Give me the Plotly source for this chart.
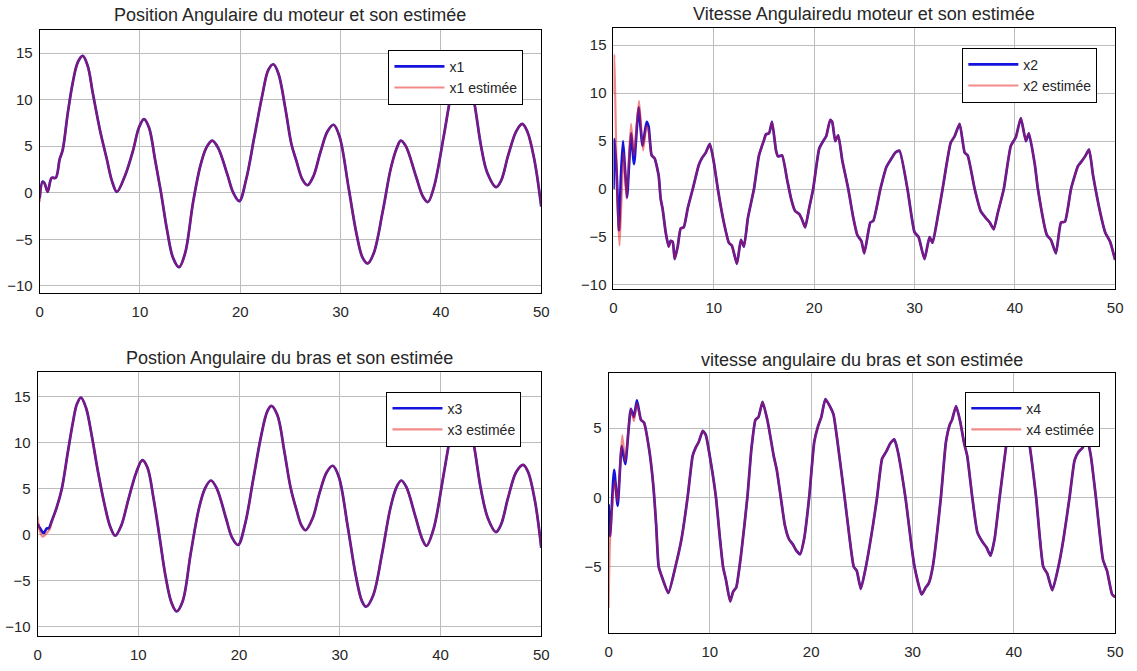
import plotly.graph_objects as go

W, H = 1137, 671

# ---------------- data ----------------
# x1 : position angulaire du moteur
x1_t_true = [0.0, 0.3, 0.5, 0.8, 1.2]
x1_v_true = [-0.6, 1.2, 1.0, 0.1, 1.6]
x1_t_est = [0.0, 0.3, 0.5, 0.8, 1.2]
x1_v_est = [-1.0, 1.1, 1.0, 0.1, 1.6]
x1_t = [1.6, 2.0, 2.3, 2.8, 3.3, 3.8, 4.3, 4.8, 5.3, 6.0, 6.7, 7.2, 7.7, 8.5, 9.3,
        9.9, 10.4, 10.9, 11.5, 12.1, 12.7, 13.3, 13.9, 14.5, 15.3, 16.0, 16.6, 17.2,
        17.8, 18.7, 19.3, 19.9, 20.6, 21.4, 22.2, 22.8, 23.3, 23.8, 24.5, 25.1, 25.6,
        26.2, 26.7, 27.3, 28.0, 28.7, 29.3, 29.9, 30.8, 31.6, 32.2, 32.7, 33.3, 34.2,
        35.0, 35.6, 36.0, 36.5, 37.5, 38.2, 38.7, 39.3, 40.3, 41.0, 41.6, 42.1, 42.6,
        43.3, 44.0, 44.6, 45.5, 46.0, 46.7, 47.5, 48.1, 48.6, 49.3, 50.0]
x1_v = [1.6, 3.6, 4.6, 8.5, 11.8, 14.0, 14.7, 13.6, 10.7, 6.8, 3.6, 1.3, 0.1, 1.8, 4.5,
        7.0, 7.9, 7.0, 3.6, 0.0, -4.0, -7.0, -8.0, -6.5, -1.0, 2.8, 4.8, 5.6,
        4.8, 2.0, 0.0, -0.9, 1.5, 6.0, 10.5, 13.2, 13.8, 12.8, 9.0, 5.2, 3.4,
        1.4, 0.8, 1.8, 4.4, 6.6, 7.3, 6.0, 0.5, -4.5, -7.0, -7.6, -6.5, -2.0,
        2.6, 4.8, 5.6, 5.0, 1.8, -0.4, -1.0, 0.6, 6.2, 10.5, 13.0, 13.8, 13.0,
        9.8, 5.0, 2.2, 0.6, 1.3, 4.0, 6.6, 7.4, 6.6, 3.6, -1.5]

# x2 : vitesse angulaire du moteur
x2_t_true = [0.0, 0.1, 0.3, 0.55, 0.75, 0.95, 1.15, 1.35, 1.55, 1.75, 2.05, 2.3, 2.5,
             2.9, 3.3, 3.5, 3.8]
x2_v_true = [0.0, 5.2, 2.0, -4.3, 1.5, 5.0, 2.0, -0.9, 2.5, 5.8, 2.6, 6.0, 8.5,
             4.5, 7.0, 6.5, 3.5]
x2_t_est = [0.0, 0.08, 0.18, 0.35, 0.6, 0.8, 1.0, 1.15, 1.3, 1.5, 1.75, 2.05, 2.3,
            2.55, 2.95, 3.3, 3.5, 3.8]
x2_v_est = [10.0, 14.0, 9.0, 0.0, -5.9, -1.0, 3.8, 1.5, -1.0, 2.5, 6.8, 3.5, 6.5,
            9.2, 4.0, 6.6, 6.0, 3.5]
x2_t = [4.1, 4.5, 4.7, 4.9, 5.2, 5.5, 5.7, 5.9, 6.1, 6.4, 6.7, 7.0, 7.4, 7.9, 8.5,
        8.8, 9.2, 9.6, 10.0, 10.4, 11.0, 11.5, 11.8, 12.3, 12.7, 13.0, 13.4, 14.0,
        14.5, 15.0, 15.2, 15.5, 15.8, 16.2, 16.4, 16.8, 17.3, 17.7, 18.1, 18.5, 18.8,
        19.1, 19.5, 19.9, 20.5, 20.9, 21.2, 21.6, 21.8, 22.1, 22.4, 22.8, 23.4, 23.9,
        24.3, 24.7, 25.0, 25.6, 25.9, 26.6, 27.2, 27.6, 28.1, 28.5, 29.3, 30.0, 30.4,
        31.0, 31.5, 31.8, 32.3, 32.8, 33.6, 34.0, 34.5, 35.0, 35.3, 36.0, 36.6, 37.1,
        37.5, 37.9, 38.3, 38.9, 39.6, 40.1, 40.6, 41.1, 41.4, 42.0, 42.3, 43.2, 43.6,
        44.1, 44.6, 45.0, 45.6, 46.3, 46.6, 47.0, 47.4, 47.8, 48.5, 49.0, 49.5, 50.0]
x2_v = [3.2, 1.4, -1.0, -2.1, -4.5, -6.0, -5.4, -5.5, -7.3, -6.0, -4.1, -4.0, -2.0, 0.0, 2.5,
        3.2, 3.8, 4.7, 2.8, 0.0, -3.5, -5.6, -5.9, -7.8, -5.3, -6.0, -3.0, 0.0,
        3.5, 5.1, 5.7, 5.8, 7.0, 4.0, 3.4, 3.5, 1.0, -1.0, -2.3, -2.6, -3.2,
        -4.0, -2.0, 0.0, 4.2, 5.0, 5.5, 7.2, 7.0, 5.0, 5.6, 3.0, 0.0, -3.0,
        -4.8, -5.4, -6.7, -3.5, -3.3, 0.0, 2.3, 3.0, 3.8, 4.0, 0.0, -4.5, -5.0,
        -7.3, -5.0, -5.6, -3.0, 0.0, 4.8, 5.5, 6.8, 3.8, 3.5, 0.0, -2.3, -3.0,
        -3.5, -4.2, -2.5, 0.0, 4.5, 5.4, 7.4, 5.0, 5.8, 2.5, 0.0, -4.8, -5.3,
        -6.7, -3.5, -3.4, 0.0, 2.4, 2.8, 3.4, 4.1, 1.4, -2.4, -4.5, -5.5, -7.4]

# x3 : position angulaire du bras
x3_t_true = [0.0, 0.3, 0.6, 0.9, 1.1, 1.4]
x3_v_true = [1.2, 0.6, 0.2, 0.7, 0.7, 1.5]
x3_t_est = [0.0, 0.2, 0.5, 0.9, 1.2, 1.4]
x3_v_est = [2.0, 0.5, -0.2, 0.2, 0.6, 1.4]
x3_t = [1.9, 2.4, 3.0, 3.5, 3.9, 4.3, 4.8, 5.4, 6.0, 6.7, 7.2, 7.7, 8.3, 9.0, 9.8,
        10.4, 10.9, 11.5, 12.1, 12.7, 13.3, 13.8, 14.4, 15.2, 16.0, 16.6, 17.2, 17.8,
        18.7, 19.3, 19.9, 20.6, 21.4, 22.2, 22.8, 23.2, 23.8, 24.5, 25.1, 25.7, 26.2,
        26.6, 27.3, 28.0, 28.7, 29.3, 29.9, 30.8, 31.6, 32.2, 32.6, 33.3, 34.2, 35.0,
        35.6, 36.1, 36.6, 37.5, 38.2, 38.6, 39.3, 40.3, 41.0, 41.6, 42.1, 42.6, 43.3,
        44.0, 44.7, 45.5, 46.0, 46.7, 47.5, 48.2, 48.7, 49.4, 50.0]
x3_v = [3.0, 5.0, 9.0, 12.2, 14.2, 14.9, 13.8, 10.6, 6.8, 3.0, 0.9, -0.1, 1.0, 3.8, 6.8,
        8.1, 7.3, 4.0, -0.2, -4.5, -7.4, -8.3, -7.2, -2.0, 2.8, 5.0, 5.9, 5.0,
        1.8, -0.3, -1.1, 1.2, 6.0, 10.8, 13.4, 14.0, 13.0, 9.0, 5.2, 2.7, 1.0,
        0.5, 1.8, 4.6, 6.8, 7.5, 6.3, 0.8, -4.5, -7.2, -7.8, -6.6, -2.0, 2.8,
        5.1, 5.9, 5.2, 2.0, -0.5, -1.2, 0.6, 6.5, 10.8, 13.3, 14.0, 13.2, 9.8,
        5.0, 1.8, 0.3, 1.1, 4.0, 6.8, 7.6, 6.8, 3.5, -1.4]

# x4 : vitesse angulaire du bras
x4_t_true = [0.0, 0.15, 0.55, 0.9, 1.3, 1.65, 2.2, 2.5, 2.8, 3.2]
x4_v_true = [-0.5, -2.8, 2.0, -0.6, 3.7, 2.4, 6.4, 5.8, 7.0, 5.6]
x4_t_est = [0.0, 0.15, 0.6, 0.9, 1.35, 1.65, 2.2, 2.5, 2.8, 3.2]
x4_v_est = [-8.0, -3.0, 1.2, -0.3, 4.5, 2.6, 6.4, 5.5, 6.8, 5.6]
x4_t = [3.5, 4.0, 4.4, 4.7, 4.95, 5.3, 5.9, 6.6, 7.2, 7.8, 8.3, 8.6, 8.9, 9.3, 9.6,
        10.1, 10.6, 11.0, 11.3, 11.6, 12.0, 12.3, 12.6, 13.1, 13.7, 14.1, 14.5, 14.8,
        15.2, 15.7, 16.3, 16.6, 17.0, 17.4, 17.8, 18.2, 18.5, 18.9, 19.3, 19.8, 20.3,
        20.7, 21.0, 21.4, 21.9, 22.2, 22.6, 23.3, 23.8, 24.2, 24.5, 24.9, 25.4, 26.1,
        26.5, 27.0, 27.4, 27.8, 28.2, 28.5, 29.3, 29.9, 30.2, 30.9, 31.3, 31.6, 32.0,
        32.8, 33.3, 33.7, 33.9, 34.3, 34.7, 35.1, 35.4, 35.9, 36.4, 36.9, 37.3, 37.7,
        38.1, 38.6, 39.3, 39.8, 40.3, 40.8, 41.5, 42.2, 42.9, 43.3, 43.8, 44.4, 44.9,
        45.5, 46.0, 46.4, 46.8, 47.2, 47.6, 48.1, 48.8, 49.2, 49.7, 50.0]
x4_v = [5.4, 3.5, 1.0, -2.0, -5.0, -5.8, -6.9, -5.0, -3.0, 0.0, 3.0, 3.6, 4.0, 4.8, 4.5,
        2.5, 0.0, -3.0, -5.0, -6.0, -7.5, -6.8, -6.5, -4.0, 0.0, 3.5, 5.6, 5.8,
        6.9, 5.5, 3.0, 2.0, 0.0, -2.0, -3.0, -3.4, -3.8, -4.1, -3.0, 0.0, 4.0,
        5.2, 5.8, 7.1, 6.5, 6.0, 4.0, 0.0, -3.0, -5.0, -5.3, -6.6, -5.0, -2.0,
        0.0, 2.8, 3.3, 3.9, 4.2, 3.5, 0.0, -3.5, -5.0, -7.0, -6.5, -6.2, -5.0,
        0.0, 4.0, 5.3, 5.6, 6.6, 5.5, 3.9, 3.0, 0.0, -2.5, -3.2, -3.6, -4.2,
        -3.0, 0.0, 4.0, 6.0, 7.2, 6.0, 4.0, 0.0, -5.0, -5.5, -6.7, -5.0, -3.0,
        0.0, 2.7, 3.3, 3.6, 4.3, 3.0, 0.0, -4.5, -5.3, -7.0, -7.2]

titles = ["Position Angulaire du moteur et son estimée",
          "Vitesse Angulairedu moteur et son estimée",
          "Postion Angulaire du bras et son estimée",
          "vitesse angulaire du bras et son estimée"]
names = ["x1", "x2", "x3", "x4"]
y_ranges = [[-10.8, 17.5], [-10.45, 16.8], [-11.0, 17.7], [-9.8, 9.0]]
y_ticks = [[-10, -5, 0, 5, 10, 15], [-10, -5, 0, 5, 10, 15],
           [-10, -5, 0, 5, 10, 15], [-5, 0, 5]]
x_ticks = [0, 10, 20, 30, 40, 50]

# ---------------- layout geometry (pixels) ----------------
# (left, right, top, bottom) of each axes box
boxes = [(36, 543, 30, 295), (616, 1123, 28, 291),
         (34, 543, 374, 640), (611, 1123, 375, 637)]
# legend boxes: right edge, top edge
legend_pos = [(525, 50), (1105, 48), (523, 394), (1108, 394)]
title_y = [15, 14, 360, 362]

series = [
    (x1_t_true + x1_t, x1_v_true + x1_v, x1_t_est + x1_t, x1_v_est + x1_v, 1.0),
    (x2_t_true + x2_t, x2_v_true + x2_v, x2_t_est + x2_t, x2_v_est + x2_v, 0.5),
    (x3_t_true + x3_t, x3_v_true + x3_v, x3_t_est + x3_t, x3_v_est + x3_v, 1.0),
    (x4_t_true + x4_t, x4_v_true + x4_v, x4_t_est + x4_t, x4_v_est + x4_v, 0.5),
]

FONT = "Liberation Sans, Arial, Helvetica, sans-serif"
TXT = "#262626"

fig = go.Figure()
layout = dict(width=W, height=H, margin=dict(l=0, r=0, t=0, b=0),
              paper_bgcolor="white", plot_bgcolor="white",
              font=dict(family=FONT, color=TXT, size=15),
              annotations=[], showlegend=True)

for i in range(4):
    sfx = "" if i == 0 else str(i + 1)
    leg = "legend" if i == 0 else "legend" + str(i + 1)
    tt, vt, te, ve, smooth = series[i]
    # true state: thick blue
    fig.add_trace(go.Scatter(
        x=tt, y=vt, mode="lines", name=names[i],
        line=dict(color="#1414dc", width=2.7, shape="spline", smoothing=smooth),
        xaxis="x" + sfx, yaxis="y" + sfx, legend=leg, legendgroup="a%d" % i))
    # observer estimate: red drawn over it
    fig.add_trace(go.Scatter(
        x=te, y=ve, mode="lines", name=names[i] + " estimée",
        line=dict(color="#e61e1e", width=2.2, shape="spline", smoothing=smooth),
        opacity=0.52,
        xaxis="x" + sfx, yaxis="y" + sfx, legend=leg, legendgroup="b%d" % i))

    l, r, t, b = boxes[i]
    axis_common = dict(showline=True, mirror=True, linecolor="black", linewidth=1,
                       showgrid=True, gridcolor="#bcbcbc", gridwidth=1,
                       zeroline=False, ticks="", tickfont=dict(size=15, color=TXT))
    layout["xaxis" + sfx] = dict(axis_common, domain=[l / W, r / W], range=[0, 50],
                                 tickvals=x_ticks, anchor="y" + sfx,
                                 ticklabelstandoff=5)
    layout["yaxis" + sfx] = dict(axis_common, domain=[1 - b / H, 1 - t / H],
                                 range=y_ranges[i], tickvals=y_ticks[i],
                                 anchor="x" + sfx, ticklabelstandoff=3)
    lx, ly = legend_pos[i]
    layout[leg] = dict(x=lx / W, y=1 - ly / H, xanchor="right", yanchor="top",
                       xref="paper", yref="paper",
                       bgcolor="white", bordercolor="black", borderwidth=1,
                       font=dict(size=14, color=TXT, family=FONT),
                       tracegroupgap=0, itemwidth=50)
    layout["annotations"].append(dict(
        text=titles[i], x=(l + r) / 2 / W, y=1 - title_y[i] / H,
        xref="paper", yref="paper", xanchor="center", yanchor="middle",
        showarrow=False, font=dict(size=18, color=TXT, family=FONT)))

fig.update_layout(**layout)
fig.write_html("out.html")
